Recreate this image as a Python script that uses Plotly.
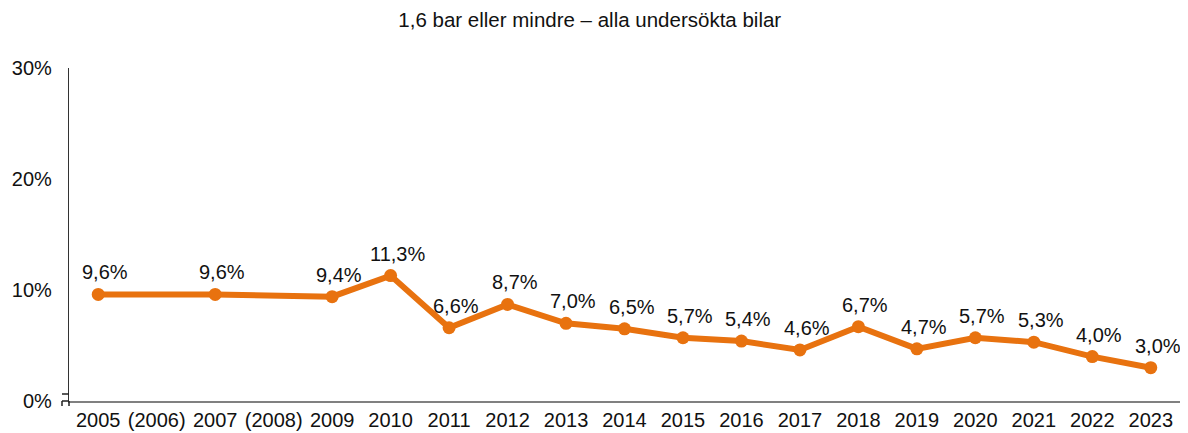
import plotly.graph_objects as go

# categories on the x axis; years in brackets were not surveyed
years = ["2005", "(2006)", "2007", "(2008)", "2009", "2010", "2011", "2012", "2013",
         "2014", "2015", "2016", "2017", "2018", "2019", "2020", "2021", "2022", "2023"]
share = [9.6, None, 9.6, None, 9.4, 11.3, 6.6, 8.7, 7.0,
         6.5, 5.7, 5.4, 4.6, 6.7, 4.7, 5.7, 5.3, 4.0, 3.0]
y_ticks = [0, 10, 20, 30]

orange = "#E8720F"
font = "Liberation Sans, Arial, sans-serif"

fig = go.Figure()
fig.add_trace(go.Scatter(
    x=years, y=share, mode="lines+markers", connectgaps=True,
    line=dict(color=orange, width=6),
    marker=dict(color=orange, size=13),
    hoverinfo="skip",
))

# value labels, slightly right of and above each point
# (numeric x = category index, numeric-looking strings would be misread)
for i, v in enumerate(share):
    if v is None:
        continue
    fig.add_annotation(
        x=i, y=v, text=f"{v:.1f}%".replace(".", ","),
        showarrow=False, xanchor="center", yanchor="bottom",
        xshift=7, yshift=9, font=dict(family=font, size=20, color="#111"),
    )

# the little tick stubs at the bottom-left corner of the axes
stubs = [(-7, 0, 0, 0), (-7, 0, 7, 7), (-7, -7, 0, -5), (0, 0, 0, -5)]
for x0, x1, y0, y1 in stubs:
    fig.add_shape(
        type="line", xref="paper", yref="paper",
        xsizemode="pixel", ysizemode="pixel", xanchor=0, yanchor=0,
        x0=x0, x1=x1, y0=y0, y1=y1,
        line=dict(color="#222", width=1.5),
    )

# page body has an 8px margin, so the figure is 8px smaller than the window
fig.update_layout(
    width=1180, height=425,
    margin=dict(l=61, r=8, t=60, b=32),
    paper_bgcolor="white", plot_bgcolor="white",
    showlegend=False,
    font=dict(family=font, size=20, color="#111"),
    title=dict(text="1,6 bar eller mindre – alla undersökta bilar",
               x=0.493, xanchor="center", y=0.972, yanchor="middle",
               font=dict(family=font, size=20.5, color="#111")),
)
fig.update_xaxes(
    type="category", categoryorder="array", categoryarray=years,
    range=[-0.5, len(years) - 0.5], automargin=False,
    showline=True, linecolor="#808080", linewidth=1.5,
    showgrid=False, ticks="", tickfont=dict(size=20),
)
fig.update_yaxes(
    range=[0, 30], tickvals=y_ticks, ticktext=[f"{t}%" for t in y_ticks],
    showline=True, linecolor="#333", linewidth=1.2, automargin=False,
    showgrid=False, zeroline=False, ticks="", ticklabelstandoff=12,
    tickfont=dict(size=20),
)

fig.write_html("out.html")
